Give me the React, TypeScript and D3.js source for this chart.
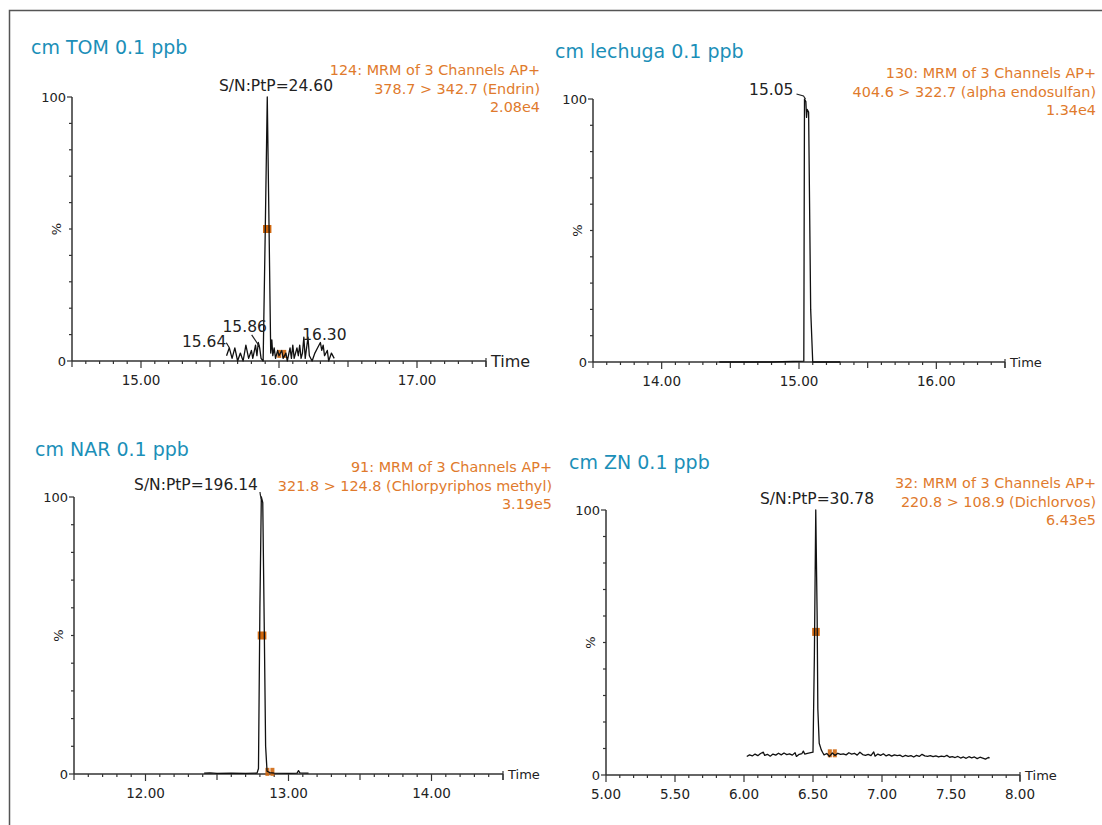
import * as d3 from 'd3'

// chromatogram traces: [time (min), relative abundance %]
const tomTrace: [number, number][] = [
  [15.62, 2], [15.64, 5], [15.66, 1], [15.68, 5], [15.7, 0], [15.72, 3], [15.74, 0],
  [15.76, 6], [15.78, 1], [15.8, 4], [15.81, 1], [15.83, 6], [15.84, 2], [15.85, 7],
  [15.86, 5], [15.87, 1], [15.885, 0], [15.9, 48], [15.915, 100], [15.928, 50],
  [15.94, 3], [15.948, 8], [15.955, 2], [15.965, 5], [15.975, 1], [15.99, 4],
  [16.0, 2], [16.02, 4], [16.03, 1], [16.05, 3], [16.06, 0], [16.08, 5], [16.09, 1],
  [16.1, 6], [16.11, 1], [16.13, 5], [16.14, 2], [16.15, 6], [16.16, 1], [16.17, 3],
  [16.18, 9], [16.19, 1], [16.21, 9], [16.22, 2], [16.24, 0], [16.26, 3], [16.28, 5],
  [16.3, 7], [16.31, 4], [16.32, 6], [16.33, 2], [16.35, 4], [16.36, 0], [16.38, 3],
  [16.4, 1],
]

const lechugaTrace: [number, number][] = [
  [14.42, 0], [14.8, 0], [15.035, 0.3], [15.04, 100], [15.05, 99], [15.055, 93],
  [15.06, 96], [15.07, 95], [15.085, 20], [15.1, 0], [15.3, 0],
]

const narTrace: [number, number][] = [
  [12.41, 0.3], [12.45, 0.4], [12.5, 0.2], [12.6, 0.3], [12.7, 0.2], [12.78, 0.3],
  [12.79, 2], [12.8, 60], [12.81, 100], [12.82, 98], [12.83, 55], [12.84, 10],
  [12.85, 1], [12.87, 0.5], [12.9, 0.3], [13.0, 0.2], [13.06, 0.3], [13.07, 1.2],
  [13.08, 0.4], [13.14, 0.3],
]

const znTrace: [number, number][] = [
  [6.02, 7.0], [6.04, 7.6], [6.06, 7.2], [6.08, 7.9], [6.1, 7.3], [6.12, 8.1], [6.14, 8.6],
  [6.15, 7.4], [6.17, 7.8], [6.19, 7.1], [6.21, 7.9], [6.23, 7.5], [6.25, 8.2], [6.27, 7.6],
  [6.29, 8.3], [6.31, 7.7], [6.33, 8.0], [6.35, 7.5], [6.37, 8.4], [6.38, 7.0], [6.4, 7.8],
  [6.42, 8.1], [6.43, 9.0], [6.44, 7.9], [6.46, 8.2], [6.5, 8.6], [6.51, 45], [6.52, 100],
  [6.53, 60], [6.535, 25], [6.545, 12], [6.56, 9.5], [6.57, 8.5], [6.58, 7.6], [6.6, 8.1],
  [6.62, 7.0], [6.64, 8.3], [6.66, 7.4], [6.68, 8.2], [6.7, 7.8], [6.72, 8.0], [6.74, 7.6],
  [6.76, 8.4], [6.78, 7.9], [6.8, 8.2], [6.82, 7.5], [6.84, 8.6], [6.86, 7.7], [6.88, 7.4],
  [6.9, 7.8], [6.92, 7.3], [6.94, 8.7], [6.95, 7.1], [6.97, 7.9], [6.99, 7.4], [7.01, 8.0],
  [7.03, 7.2], [7.05, 7.7], [7.07, 7.1], [7.09, 7.6], [7.11, 7.3], [7.13, 7.5], [7.15, 6.9],
  [7.17, 7.4], [7.19, 7.0], [7.21, 7.3], [7.23, 6.8], [7.25, 7.4], [7.27, 7.0], [7.29, 7.8],
  [7.31, 7.2], [7.33, 7.0], [7.35, 7.3], [7.37, 6.9], [7.39, 7.2], [7.41, 6.8], [7.43, 7.1],
  [7.45, 6.9], [7.47, 7.4], [7.49, 6.7], [7.51, 6.9], [7.53, 6.6], [7.55, 7.0], [7.57, 6.4],
  [7.59, 6.8], [7.61, 6.3], [7.63, 6.9], [7.65, 6.5], [7.67, 6.8], [7.69, 6.2], [7.71, 6.7],
  [7.73, 6.4], [7.75, 6.0], [7.77, 6.6], [7.78, 6.5],
]

// labelled x ticks
const tomTicks = [15, 16, 17]
const lechugaTicks = [14, 15, 16]
const narTicks = [12, 13, 14]
const znTicks = [5, 5.5, 6, 6.5, 7, 7.5, 8]

const titles = ['cm TOM 0.1 ppb', 'cm lechuga 0.1 ppb', 'cm NAR 0.1 ppb', 'cm ZN 0.1 ppb']
const channelInfo = [
  ['124: MRM of 3 Channels AP+', '378.7 > 342.7 (Endrin)', '2.08e4'],
  ['130: MRM of 3 Channels AP+', '404.6 > 322.7 (alpha endosulfan)', '1.34e4'],
  ['91: MRM of 3 Channels AP+', '321.8 > 124.8 (Chlorpyriphos methyl)', '3.19e5'],
  ['32: MRM of 3 Channels AP+', '220.8 > 108.9 (Dichlorvos)', '6.43e5'],
]
const snLabels = ['S/N:PtP=24.60', '', 'S/N:PtP=196.14', 'S/N:PtP=30.78']

// peak apex labels [time, %, text]
const tomPeakLabels: [number, number, string][] = [[15.64, 5, '15.64'], [15.86, 5, '15.86'], [16.3, 7, '16.30']]
const lechugaPeakLabels: [number, number, string][] = [[15.04, 100, '15.05']]

// half height markers [time, %] and integration markers [time, %]
const halfMarks: [number, number][][] = [
  [[15.9, 50], [15.929, 50]],
  [],
  [[12.8, 50], [12.83, 50]],
  [[6.51, 54], [6.533, 54]],
]
const baseMarks: ([number, number] | null)[] = [[16.02, 2.5], null, [12.87, 0.6], [6.64, 8]]

const TEAL = '#1b8fb8'
const ORANGE = '#e07a2c'
const MARK = '#d0680f'
const AXIS = '#333'
const FONT = '"DejaVu Sans", Verdana, sans-serif'

type LabelLayout = { dx: number; dy: number; anchor: string; leader?: [number, number][] }

type PanelProps = {
  idx: number
  trace: [number, number][]
  domain: [number, number]
  ticks: number[]
  minorStep: number
  box: { x0: number; x1: number; yTop: number; yBot: number }
  title: { x: number; y: number }
  infoX: number
  infoY: number
  snX: number
  snY: number
  timeSize: number
  peakLabels?: [number, number, string][]
  labelLayout?: LabelLayout[]
}

function Panel(p: PanelProps) {
  const { x0, x1, yTop, yBot } = p.box
  const x = d3.scaleLinear().domain(p.domain).range([x0, x1])
  const y = d3.scaleLinear().domain([0, 100]).range([yBot, yTop])
  const line = d3.line<[number, number]>().x((d) => x(d[0])).y((d) => y(d[1]))

  const n0 = Math.round(p.domain[0] / p.minorStep)
  const n1 = Math.round(p.domain[1] / p.minorStep)
  const minor = d3.range(n0, n1 + 1).map((i) => +(i * p.minorStep).toFixed(2))
  const yMinor = d3.range(0, 101, 10)
  const fmt = d3.format('.2f')
  const peak = p.trace.reduce((a, b) => (b[1] > a[1] ? b : a))
  const bm = baseMarks[p.idx]

  return (
    <g fontFamily={FONT}>
      <text x={p.title.x} y={p.title.y} fill={TEAL} fontSize={19}>
        {titles[p.idx]}
      </text>
      {channelInfo[p.idx].map((t, i) => (
        <text key={i} x={p.infoX} y={p.infoY + i * 18.5} fill={ORANGE} fontSize={14.4} textAnchor="end">
          {t}
        </text>
      ))}
      {snLabels[p.idx] && (
        <text x={p.snX} y={p.snY} fill="#222" fontSize={15.5} textAnchor="middle">
          {snLabels[p.idx]}
        </text>
      )}

      {/* y axis */}
      <line x1={x0} x2={x0} y1={yTop} y2={yBot} stroke={AXIS} strokeWidth={1.5} />
      {yMinor.map((v) => (
        <line key={v} x1={x0 - (v % 100 === 0 ? 5 : 3)} x2={x0} y1={y(v)} y2={y(v)} stroke={AXIS} strokeWidth={1.2} />
      ))}
      <text x={x0 - 6} y={y(100) + 4.5} fontSize={13} textAnchor="end" fill="#222">100</text>
      <text x={x0 - 6} y={y(0) + 4.5} fontSize={13} textAnchor="end" fill="#222">0</text>
      <text
        transform={`translate(${x0 - 11},${(yTop + yBot) / 2}) rotate(-90)`}
        fontSize={13}
        textAnchor="middle"
        fill="#222"
      >
        %
      </text>

      {/* x axis */}
      <line x1={x0} x2={x1} y1={yBot} y2={yBot} stroke={AXIS} strokeWidth={1.5} />
      {minor.map((t) => {
        const major = p.ticks.some((m) => Math.abs(m - t) < 1e-6)
        const half = Math.abs(t * 2 - Math.round(t * 2)) < 1e-6
        const len = major ? 7 : half ? 6 : 3
        return <line key={t} x1={x(t)} x2={x(t)} y1={yBot} y2={yBot + len} stroke={AXIS} strokeWidth={1.2} />
      })}
      <line x1={x1} x2={x1} y1={yBot - 3} y2={yBot + 6} stroke={AXIS} strokeWidth={1.2} />
      {p.ticks.map((t) => (
        <text key={t} x={x(t)} y={yBot + 24} fontSize={13.5} textAnchor="middle" fill="#222">
          {fmt(t)}
        </text>
      ))}
      <text x={x1 + 5} y={yBot + p.timeSize * 0.35} fontSize={p.timeSize} fill="#222">
        Time
      </text>

      {/* markers, under the trace */}
      {halfMarks[p.idx].map(([t, v], i) => (
        <rect key={i} x={x(t) - 2.2} y={y(v) - 4} width={4.4} height={8} fill={MARK} />
      ))}
      {bm && (
        <g>
          <rect x={x(bm[0]) - 4.5} y={y(bm[1]) - 4.5} width={4} height={8} fill={MARK} opacity={0.9} />
          <rect x={x(bm[0]) + 0.5} y={y(bm[1]) - 4.5} width={4} height={8} fill={MARK} opacity={0.9} />
        </g>
      )}

      {/* trace */}
      <path d={line(p.trace) ?? ''} fill="none" stroke="#111" strokeWidth={1.3} strokeLinejoin="round" />

      {/* peak labels with leader lines */}
      {(p.peakLabels ?? []).map(([t, v, s], i) => {
        const px = x(t)
        const py = y(v)
        const l = (p.labelLayout ?? [])[i] ?? { dx: 0, dy: -8, anchor: 'middle' }
        return (
          <g key={i}>
            <text x={px + l.dx} y={py + l.dy} fontSize={15.5} textAnchor={l.anchor} fill="#222">
              {s}
            </text>
            {l.leader && (
              <polyline
                points={l.leader.map(([a, b]) => `${px + a},${py + b}`).join(' ')}
                fill="none"
                stroke="#222"
                strokeWidth={1.2}
              />
            )}
          </g>
        )
      })}
      {p.idx === 2 && (
        <polyline
          points={`${p.snX + 64},${p.snY + 2} ${x(peak[0]) - 1},${p.snY + 5} ${x(peak[0])},${y(100) + 2}`}
          fill="none"
          stroke="#222"
          strokeWidth={1.2}
        />
      )}
    </g>
  )
}

export default function App() {
  return (
    <svg width={1102} height={825} style={{ position: 'absolute', left: 0, top: 0, background: '#fff' }}>
      <rect x={9.5} y={10.5} width={1200} height={900} fill="none" stroke="#555" strokeWidth={1.5} />
      <Panel
        idx={0}
        trace={tomTrace}
        domain={[14.5, 17.5]}
        ticks={tomTicks}
        minorStep={0.1}
        box={{ x0: 72, x1: 486, yTop: 97, yBot: 361 }}
        title={{ x: 31, y: 54 }}
        infoX={540}
        infoY={75}
        snX={276}
        snY={91}
        timeSize={16}
        peakLabels={tomPeakLabels}
        labelLayout={[
          { dx: -3, dy: -1, anchor: 'end', leader: [[-3, -5], [0, 0]] },
          { dx: -15, dy: -16, anchor: 'middle', leader: [[-8, -13], [0, -1]] },
          { dx: 4, dy: -3, anchor: 'middle' },
        ]}
      />
      <Panel
        idx={1}
        trace={lechugaTrace}
        domain={[13.5, 16.5]}
        ticks={lechugaTicks}
        minorStep={0.1}
        box={{ x0: 593, x1: 1005, yTop: 99, yBot: 362 }}
        title={{ x: 555, y: 58 }}
        infoX={1096}
        infoY={78}
        snX={0}
        snY={0}
        timeSize={13}
        peakLabels={lechugaPeakLabels}
        labelLayout={[{ dx: -11, dy: -4, anchor: 'end', leader: [[-8, -5], [-1, -3], [1, 0]] }]}
      />
      <Panel
        idx={2}
        trace={narTrace}
        domain={[11.5, 14.5]}
        ticks={narTicks}
        minorStep={0.1}
        box={{ x0: 74, x1: 503, yTop: 497, yBot: 774 }}
        title={{ x: 35, y: 456 }}
        infoX={552}
        infoY={472}
        snX={196}
        snY={490}
        timeSize={13}
      />
      <Panel
        idx={3}
        trace={znTrace}
        domain={[5, 8]}
        ticks={znTicks}
        minorStep={0.1}
        box={{ x0: 606, x1: 1020, yTop: 510, yBot: 775 }}
        title={{ x: 569, y: 469 }}
        infoX={1096}
        infoY={488}
        snX={817}
        snY={504}
        timeSize={13}
      />
    </svg>
  )
}
